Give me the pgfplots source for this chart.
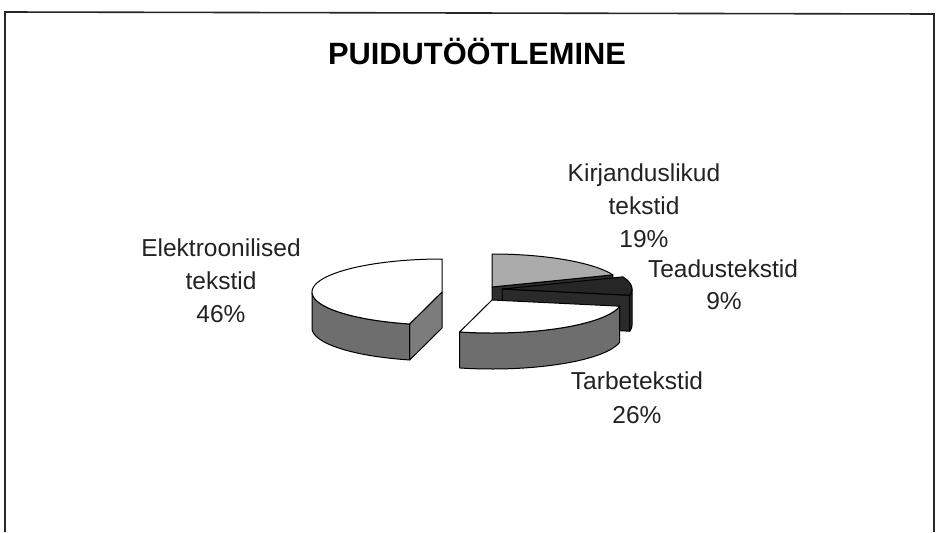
\documentclass[border=0pt]{standalone}
\usepackage{pgfplots}
\pgfplotsset{compat=1.18}
\usepackage{pgfplotstable}
\usepackage{fontspec}
\setmainfont{Liberation Sans}

% slice data: share in percent, centre of the (exploded) slice in picture pixels
\pgfplotstableread{
name pct cx cy
Kirjanduslikud 19 492 287
Teadustekstid 9 502 289
Tarbetekstid 26 492 300
Elektroonilised 46 442 292
}\pietable

\def\rx{130}
\def\ry{33}
\def\hh{36}

\definecolor{sidegrey}{HTML}{6E6E6E}
\definecolor{facegrey}{HTML}{7C7C7C}
\definecolor{kirjtop}{HTML}{ABABAB}
\definecolor{kirjface}{HTML}{2E2E2E}
\definecolor{teadtop}{HTML}{262626}
\definecolor{teadside}{HTML}{2A2A2A}
\definecolor{txt}{HTML}{222222}

\newcommand\topwedge[5]{%
  \addplot[fill=#5,draw=black,line width=1pt,line join=round,domain=#3:#4,samples=70,variable=\t]
  ({#1+\rx*cos(\t)},{#2-\ry*sin(\t)}) -- (axis cs:#1,#2) -- cycle;}
\newcommand\sidestrip[5]{%
  \addplot[fill=#5,draw=black,line width=1pt,line join=round,domain=0:3,samples=151,variable=\t]
  ({#1+\rx*cos(thf(\t,#3,#4))},{#2-\ry*sin(thf(\t,#3,#4))+\hh*dyf(\t)}) -- cycle;}
\newcommand\radface[4]{%
  \addplot[fill=#4,draw=black,line width=1pt,line join=round,samples at={0,1,2,3},variable=\t]
  ({#1+\rx*cos(#3)*(\t>0.5)*(\t<2.5)},{#2-\ry*sin(#3)*(\t>0.5)*(\t<2.5)+\hh*(\t>1.5)}) -- cycle;}

\begin{document}%
\begin{tikzpicture}
\pgfplotstablegetelem{0}{pct}\of\pietable\pgfmathsetmacro\pK{\pgfplotsretval}
\pgfplotstablegetelem{1}{pct}\of\pietable\pgfmathsetmacro\pT{\pgfplotsretval}
\pgfplotstablegetelem{2}{pct}\of\pietable\pgfmathsetmacro\pR{\pgfplotsretval}
\pgfplotstablegetelem{3}{pct}\of\pietable\pgfmathsetmacro\pE{\pgfplotsretval}
\pgfplotstablegetelem{0}{cx}\of\pietable\pgfmathsetmacro\xK{\pgfplotsretval}
\pgfplotstablegetelem{0}{cy}\of\pietable\pgfmathsetmacro\yK{\pgfplotsretval}
\pgfplotstablegetelem{1}{cx}\of\pietable\pgfmathsetmacro\xT{\pgfplotsretval}
\pgfplotstablegetelem{1}{cy}\of\pietable\pgfmathsetmacro\yT{\pgfplotsretval}
\pgfplotstablegetelem{2}{cx}\of\pietable\pgfmathsetmacro\xR{\pgfplotsretval}
\pgfplotstablegetelem{2}{cy}\of\pietable\pgfmathsetmacro\yR{\pgfplotsretval}
\pgfplotstablegetelem{3}{cx}\of\pietable\pgfmathsetmacro\xE{\pgfplotsretval}
\pgfplotstablegetelem{3}{cy}\of\pietable\pgfmathsetmacro\yE{\pgfplotsretval}
\pgfmathsetmacro\aK{90}
\pgfmathsetmacro\bK{\aK-3.6*\pK}
\pgfmathsetmacro\bT{\bK-3.6*\pT}
\pgfmathsetmacro\bR{\bT-3.6*\pR}
\pgfmathsetmacro\bE{\bR-3.6*\pE}
\begin{axis}[
  width=937pt,height=532pt,scale only axis,
  xmin=0,xmax=937,ymin=0,ymax=532,y dir=reverse,
  hide axis,clip=false,
  declare function={
    thf(\t,\p,\q)=(\t<=1)*(\p+(\q-\p)*\t)+(\t>1)*(\t<=2)*\q+(\t>2)*(\q-(\q-\p)*(\t-2));
    dyf(\t)=(\t>1)*(\t<=2)*(\t-1)+(\t>2);
  },
]
\path (axis cs:0,0) rectangle (axis cs:937,532);
\draw[line width=1.6pt,color=black!85] (axis cs:5,532) -- (axis cs:5,12) -- (axis cs:934,14) -- (axis cs:934,532);

% Kirjanduslikud tekstid
\radface{\xK}{\yK}{\bK}{kirjface}
\topwedge{\xK}{\yK}{\bK}{\aK}{kirjtop}
% Teadustekstid
\radface{\xT}{\yT}{\bT}{teadside}
\sidestrip{\xT}{\yT}{\bT}{0}{teadside}
\topwedge{\xT}{\yT}{\bT}{\bK}{teadtop}
% Tarbetekstid
\sidestrip{\xR}{\yR}{\bR}{\bT}{sidegrey}
\topwedge{\xR}{\yR}{\bR}{\bT}{white}
% Elektroonilised tekstid
\radface{\xE}{\yE}{\bR}{facegrey}
\sidestrip{\xE}{\yE}{-180}{\bR}{sidegrey}
\topwedge{\xE}{\yE}{\bE}{\bR}{white}

\node[anchor=base,font=\bfseries\fontsize{30.8}{36}\selectfont,text=black] at (axis cs:477,64) {PUIDUTÖÖTLEMINE};

\begin{scope}[every node/.style={anchor=base,font=\fontsize{24.5}{33}\selectfont,text=txt,inner sep=0pt}]
\node at (axis cs:221,256) {Elektroonilised};
\node at (axis cs:221,289) {tekstid};
\node at (axis cs:221,322) {46\%};
\node at (axis cs:644,181) {Kirjanduslikud};
\node at (axis cs:644,214) {tekstid};
\node at (axis cs:644,247) {19\%};
\node at (axis cs:723,277) {Teadustekstid};
\node at (axis cs:724,309) {9\%};
\node at (axis cs:637,389) {Tarbetekstid};
\node at (axis cs:637,423) {26\%};
\end{scope}
\end{axis}
\end{tikzpicture}%
\end{document}
